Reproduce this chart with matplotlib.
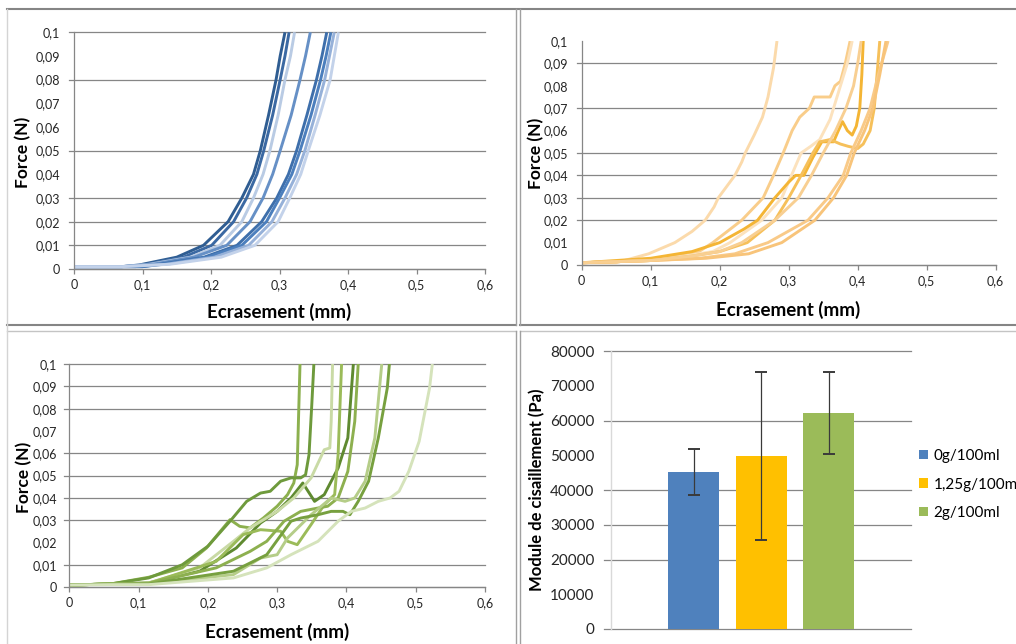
import matplotlib
matplotlib.use('Agg')
import matplotlib.pyplot as plt
from matplotlib.lines import Line2D

plt.rcParams['font.family'] = ['Lato', 'DejaVu Sans']

# ---------------- data ----------------
x_ticks = [0, 0.1, 0.2, 0.3, 0.4, 0.5, 0.6]
x_tick_labels = ['0', '0,1', '0,2', '0,3', '0,4', '0,5', '0,6']
y_ticks = [0, 0.01, 0.02, 0.03, 0.04, 0.05, 0.06, 0.07, 0.08, 0.09, 0.1]
y_tick_labels = ['0', '0,01', '0,02', '0,03', '0,04', '0,05', '0,06', '0,07', '0,08', '0,09', '0,1']

# Panel 1 : 0g/100ml (blue curves)
blue_y = [0.001, 0.001, 0.002, 0.005, 0.01, 0.02, 0.03, 0.04, 0.05, 0.065, 0.08, 0.09, 0.1]
blue_x = [
    [0, 0.09, 0.100, 0.150, 0.189, 0.225, 0.245, 0.262, 0.272, 0.284, 0.295, 0.301, 0.308],
    [0, 0.07, 0.105, 0.160, 0.201, 0.233, 0.252, 0.267, 0.277, 0.290, 0.301, 0.308, 0.314],
    [0, 0.07, 0.110, 0.170, 0.213, 0.245, 0.262, 0.276, 0.286, 0.298, 0.308, 0.316, 0.322],
    [0, 0.07, 0.115, 0.175, 0.223, 0.257, 0.276, 0.290, 0.301, 0.317, 0.330, 0.338, 0.345],
    [0, 0.10, 0.125, 0.190, 0.238, 0.274, 0.296, 0.313, 0.325, 0.340, 0.354, 0.362, 0.369],
    [0, 0.10, 0.130, 0.195, 0.245, 0.281, 0.300, 0.318, 0.330, 0.346, 0.360, 0.368, 0.375],
    [0, 0.07, 0.135, 0.205, 0.255, 0.289, 0.308, 0.325, 0.337, 0.352, 0.366, 0.373, 0.380],
    [0, 0.07, 0.140, 0.215, 0.264, 0.298, 0.315, 0.331, 0.342, 0.359, 0.374, 0.380, 0.386],
]
blue_colors = ['#2f5d92', '#3b69a3', '#b9cbe4', '#6690c6', '#3e6fab', '#4c7fbd', '#96b1d9', '#c3d2ea']

# Panel 2 : 1,25g/100ml (orange curves)
orange_x = [
    [0, 0.05, 0.097, 0.135, 0.16, 0.179, 0.192, 0.198, 0.222, 0.232, 0.237, 0.25, 0.262, 0.27, 0.278, 0.283],
    [0, 0.1, 0.14, 0.17, 0.19, 0.232, 0.263, 0.278, 0.292, 0.305, 0.316, 0.33, 0.337, 0.36, 0.367, 0.375, 0.382, 0.389],
    [0, 0.1, 0.15, 0.19, 0.215, 0.261, 0.29, 0.304, 0.318, 0.332, 0.345, 0.36, 0.375, 0.385, 0.392],
    [0, 0.1, 0.16, 0.2, 0.235, 0.255, 0.28, 0.3, 0.31, 0.322, 0.335, 0.348, 0.365, 0.372, 0.378, 0.385, 0.392, 0.398, 0.403, 0.406, 0.408],
    [0, 0.1, 0.16, 0.2, 0.24, 0.28, 0.3, 0.318, 0.335, 0.345, 0.36, 0.375, 0.386, 0.4, 0.408, 0.418, 0.424, 0.428, 0.432],
    [0, 0.1, 0.17, 0.222, 0.27, 0.328, 0.357, 0.379, 0.39, 0.405, 0.418, 0.43, 0.444],
    [0, 0.1, 0.18, 0.242, 0.29, 0.338, 0.365, 0.384, 0.395, 0.41, 0.422, 0.432, 0.441],
    [0, 0.1, 0.16, 0.2, 0.232, 0.28, 0.314, 0.333, 0.35, 0.368, 0.383, 0.394, 0.4, 0.405],
]
orange_y = [
    [0.001, 0.001, 0.005, 0.01, 0.015, 0.02, 0.026, 0.03, 0.04, 0.046, 0.05, 0.058, 0.066, 0.075, 0.088, 0.1],
    [0.001, 0.002, 0.004, 0.006, 0.01, 0.02, 0.03, 0.04, 0.05, 0.06, 0.066, 0.07, 0.075, 0.075, 0.08, 0.082, 0.09, 0.1],
    [0.001, 0.002, 0.004, 0.006, 0.01, 0.02, 0.03, 0.04, 0.05, 0.053, 0.056, 0.065, 0.08, 0.09, 0.1],
    [0.001, 0.003, 0.006, 0.01, 0.016, 0.02, 0.03, 0.037, 0.04, 0.04, 0.048, 0.055, 0.055, 0.06, 0.064, 0.06, 0.058, 0.062, 0.07, 0.085, 0.1],
    [0.001, 0.002, 0.004, 0.006, 0.01, 0.02, 0.03, 0.04, 0.05, 0.055, 0.056, 0.054, 0.053, 0.052, 0.054, 0.06, 0.07, 0.085, 0.1],
    [0.001, 0.002, 0.003, 0.005, 0.01, 0.02, 0.03, 0.04, 0.05, 0.06, 0.07, 0.085, 0.1],
    [0.001, 0.002, 0.003, 0.005, 0.01, 0.02, 0.03, 0.04, 0.05, 0.06, 0.07, 0.085, 0.1],
    [0.001, 0.002, 0.004, 0.006, 0.01, 0.02, 0.03, 0.04, 0.05, 0.06, 0.07, 0.08, 0.09, 0.1],
]
orange_colors = ['#fbdaab', '#f9cd8a', '#fce2bd', '#f4b535', '#f6c05a', '#f9ca88', '#f8c47a', '#f8cf92']

# Panel 3 : 2g/100ml (green curves)
green_x = [
    [0, 0.06, 0.1146, 0.163, 0.198, 0.232, 0.246, 0.261, 0.28, 0.3, 0.315, 0.324, 0.329, 0.333],
    [0, 0.06, 0.1146, 0.163, 0.2, 0.232, 0.256, 0.276, 0.29, 0.305, 0.32, 0.334, 0.341, 0.346, 0.35, 0.353],
    [0, 0.06, 0.1146, 0.188, 0.241, 0.276, 0.3, 0.32, 0.337, 0.354, 0.368, 0.388, 0.402, 0.41],
    [0, 0.06, 0.1146, 0.188, 0.237, 0.261, 0.3, 0.324, 0.349, 0.368, 0.376, 0.378, 0.38],
    [0, 0.06, 0.1146, 0.212, 0.251, 0.276, 0.305, 0.315, 0.329, 0.349, 0.368, 0.383, 0.388, 0.393],
    [0, 0.06, 0.1146, 0.212, 0.261, 0.285, 0.31, 0.334, 0.359, 0.373, 0.388, 0.402, 0.412, 0.417],
    [0, 0.06, 0.1146, 0.237, 0.276, 0.3, 0.315, 0.349, 0.378, 0.398, 0.412, 0.427, 0.441, 0.451],
    [0, 0.06, 0.1146, 0.237, 0.285, 0.32, 0.334, 0.359, 0.378, 0.395, 0.405, 0.417, 0.432, 0.446, 0.459, 0.462],
    [0, 0.06, 0.1146, 0.237, 0.285, 0.32, 0.359, 0.388, 0.407, 0.427, 0.446, 0.463, 0.476, 0.49, 0.505, 0.52, 0.524],
]
green_y = [
    [0.001, 0.0015, 0.0045, 0.0087, 0.0176, 0.0303, 0.0273, 0.0266, 0.031, 0.0363, 0.0415, 0.0467, 0.0549, 0.1],
    [0.001, 0.0015, 0.0042, 0.0101, 0.0184, 0.0296, 0.0385, 0.0422, 0.043, 0.0475, 0.049, 0.049, 0.0504, 0.0594, 0.0818, 0.1],
    [0.001, 0.0015, 0.0020, 0.0072, 0.0176, 0.0288, 0.034, 0.04, 0.0467, 0.0385, 0.0415, 0.0534, 0.0669, 0.1],
    [0.001, 0.0015, 0.0020, 0.0087, 0.0206, 0.0266, 0.034, 0.04, 0.049, 0.0616, 0.0624, 0.0743, 0.1],
    [0.001, 0.0015, 0.0018, 0.0116, 0.0236, 0.0258, 0.0251, 0.0206, 0.0191, 0.0281, 0.037, 0.0415, 0.0594, 0.1],
    [0.001, 0.0015, 0.0018, 0.0087, 0.0161, 0.0206, 0.0296, 0.034, 0.0355, 0.0363, 0.04, 0.0519, 0.0743, 0.1],
    [0.001, 0.0015, 0.0015, 0.0057, 0.0131, 0.0146, 0.0221, 0.0325, 0.04, 0.0385, 0.04, 0.0475, 0.0669, 0.1],
    [0.001, 0.0015, 0.0015, 0.0072, 0.0146, 0.0296, 0.031, 0.0325, 0.034, 0.034, 0.0325, 0.0385, 0.0475, 0.0669, 0.0893, 0.1],
    [0.001, 0.0012, 0.0012, 0.0042, 0.0087, 0.0146, 0.0206, 0.0296, 0.034, 0.0355, 0.0385, 0.04, 0.043, 0.0519, 0.0654, 0.0893, 0.1],
]
green_colors = ['#8cb04e', '#6e9a3c', '#5f8a30', '#c9daa5', '#9bbb59', '#8db04f', '#b5cd88', '#77a03f', '#d5e3bb']

# Panel 4 : bar chart
bar_labels = ['0g/100ml', '1,25g/100ml', '2g/100ml']
bar_values = [45300, 49800, 62200]
bar_errors = [6600, 24200, 11700]
bar_colors = ['#4f81bd', '#ffc000', '#9bbb59']
bar_y_ticks = [0, 10000, 20000, 30000, 40000, 50000, 60000, 70000, 80000]

# ---------------- layout ----------------
W, H = 1016, 644
GRID = '#868686'
TXT = '#262626'

fig = plt.figure(figsize=(W / 100, H / 100), dpi=100)


def box(l, t, r, b):
    return [l / W, 1 - b / H, (r - l) / W, (b - t) / H]


ax1 = fig.add_axes(box(74, 32.3, 485, 269))
ax2 = fig.add_axes(box(581.7, 41, 995.7, 265))
ax3 = fig.add_axes(box(69.3, 364, 485, 587.3))
ax4 = fig.add_axes(box(611, 351, 911, 629))


def style_line_ax(ax, grid_vals, ypad, width_px, ylab_xy, xlab_xy):
    ax.set_xlim(0, 0.6)
    ax.set_ylim(0, 0.1)
    ax.set_xticks(x_ticks)
    ax.set_xticklabels(x_tick_labels)
    ax.set_yticks(y_ticks)
    ax.set_yticklabels(y_tick_labels)
    for s in ['top', 'right']:
        ax.spines[s].set_visible(False)
    for s in ['left', 'bottom']:
        ax.spines[s].set_color(GRID)
        ax.spines[s].set_linewidth(0.9)
    ax.tick_params(axis='y', length=0, pad=ypad, labelsize=9, labelcolor=TXT)
    ax.tick_params(axis='x', length=3.6, width=0.9, color=GRID, pad=3.5,
                   labelsize=9, labelcolor=TXT)
    ext = 5 / width_px
    for v in grid_vals:
        ax.axhline(v, xmin=-ext, xmax=1, color=GRID, lw=0.9, clip_on=False, zorder=0.5)
    ax.set_ylabel('Force (N)', fontsize=12.5, fontweight='bold', color='black')
    ax.yaxis.set_label_coords(*ylab_xy)
    ax.yaxis.label.set_va('center')
    ax.yaxis.label.set_ha('center')
    ax.set_xlabel('Ecrasement (mm)', fontsize=13.5, fontweight='bold', color='black')
    ax.xaxis.set_label_coords(*xlab_xy)
    ax.xaxis.label.set_va('center')


style_line_ax(ax1, [0, 0.01, 0.02, 0.03, 0.05, 0.08, 0.1], 10, 411,
              (-0.124, 0.494), (0.499, -0.182))
style_line_ax(ax2, [0, 0.02, 0.03, 0.04, 0.05, 0.07, 0.09], 10, 414,
              (-0.110, 0.5), (0.498, -0.201))
style_line_ax(ax3, [0, 0.01, 0.03, 0.04, 0.05, 0.06, 0.08, 0.09, 0.1], 9, 415.7,
              (-0.109, 0.494), (0.4996, -0.200))

for xs, c in zip(blue_x, blue_colors):
    ax1.plot(xs, blue_y, color=c, lw=2.1, solid_capstyle='butt', zorder=2)
for xs, ys, c in zip(orange_x, orange_y, orange_colors):
    ax2.plot(xs, ys, color=c, lw=2.1, solid_capstyle='butt', zorder=2)
for xs, ys, c in zip(green_x, green_y, green_colors):
    ax3.plot(xs, ys, color=c, lw=2.1, solid_capstyle='butt', zorder=2)

# bar chart
ax4.set_xlim(-0.5, 0.5)
ax4.set_ylim(0, 80000)
pos = [(i - 1) * 0.225 for i in range(len(bar_values))]
bars = ax4.bar(pos, bar_values, width=0.17, color=bar_colors, zorder=2)
ax4.errorbar(pos, bar_values, yerr=bar_errors, fmt='none', ecolor='#3a3a3a',
             elinewidth=0.9, capsize=4, capthick=1.4, zorder=3)
ax4.set_xticks([])
ax4.set_yticks(bar_y_ticks)
ax4.set_yticklabels([str(v) for v in bar_y_ticks])
ax4.tick_params(axis='y', length=0, pad=12, labelsize=11, labelcolor=TXT)
for s in ['top', 'right', 'bottom']:
    ax4.spines[s].set_visible(False)
ax4.spines['left'].set_color('#d9d9d9')
ax4.spines['left'].set_linewidth(1)
for v in [0, 20000, 30000, 40000, 60000, 80000]:
    ax4.axhline(v, xmin=-7 / 300, xmax=1, color=GRID, lw=0.9, clip_on=False, zorder=1)
ax4.set_ylabel('Module de cisaillement (Pa)', fontsize=12, fontweight='bold', color='black')
ax4.yaxis.set_label_coords(-0.247, 0.5)
ax4.yaxis.label.set_va('center')
ax4.yaxis.label.set_ha('center')
ax4.legend(bars, bar_labels, loc='upper left', bbox_to_anchor=(919 / W, 1 - 449 / H),
           bbox_transform=fig.transFigure, frameon=False, fontsize=11,
           handlelength=0.6, handleheight=0.6, handletextpad=0.35,
           labelspacing=0.95, borderpad=0, borderaxespad=0)

# panel frames
def fline(xs, ys, color, lw):
    fig.add_artist(Line2D([x / W for x in xs], [1 - y / H for y in ys],
                          color=color, lw=lw, transform=fig.transFigure))


fline([7, 1016], [9, 9], '#858585', 1.5)
fline([7, 516], [325, 325], '#858585', 1.5)
fline([520, 1016], [325, 325], '#858585', 1.5)
fline([7, 516], [330.5, 330.5], '#c4c4c4', 1)
fline([520, 1016], [330.5, 330.5], '#c4c4c4', 1)
fline([516, 516], [9, 325], '#a0a0a0', 1)
fline([520, 520], [9, 325], '#a0a0a0', 1)
fline([516, 516], [330.5, 644], '#a0a0a0', 1)
fline([520, 520], [330.5, 644], '#a0a0a0', 1)
fline([7, 7], [9, 644], '#d4d4d4', 1)

fig.savefig('out.png', dpi=100)
